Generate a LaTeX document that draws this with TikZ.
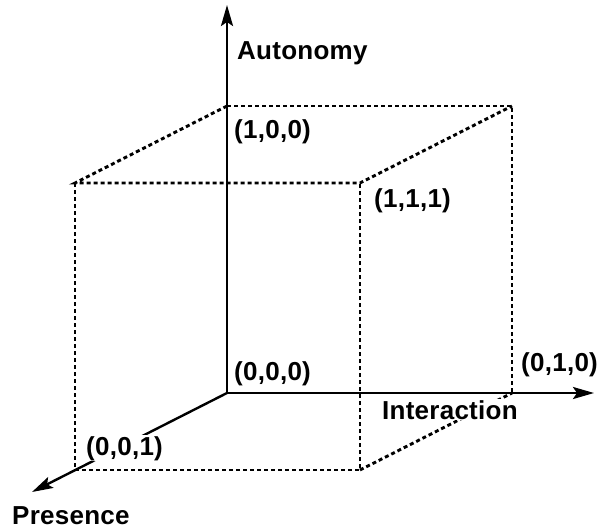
\documentclass[tikz,border=0pt]{standalone}
\usepackage{fontspec}
\setmainfont[LetterSpace=1]{Liberation Sans}
\usetikzlibrary{arrows.meta}

\begin{document}
\begin{tikzpicture}[x=1pt,y=-1pt,
  axis/.style={line width=2.4pt, -{Stealth[length=21pt,width=12pt,inset=4pt]}},
  cubeedge/.style={line width=2.9pt, dash pattern=on 4pt off 3pt},
  lbl/.style={font=\fontsize{26}{30}\selectfont\bfseries, inner sep=1pt, anchor=base west},
  masked/.style={lbl, fill=white}]
  \useasboundingbox (0,0) rectangle (598,528);

  % cube corners: back face (z=0) and front face (z=1)
  \coordinate (O)   at (227,393);
  \coordinate (A)   at (227,106);
  \coordinate (AI)  at (512,106);
  \coordinate (I)   at (512,393);
  \coordinate (P)   at (75,470);
  \coordinate (AP)  at (75,183);
  \coordinate (AIP) at (360,183);
  \coordinate (IP)  at (360,470);

  % axis tips
  \coordinate (Atip) at (227,5);
  \coordinate (Itip) at (594,393);
  \coordinate (Ptip) at (32,492);

  % dotted cube edges
  \draw[cubeedge] (A) -- (AI) -- (I);
  \draw[cubeedge] (A) -- (AP) -- (AIP) -- (AI);
  \draw[cubeedge] (AP) -- (P) -- (IP) -- (AIP);
  \draw[cubeedge] (IP) -- (I);

  % axes
  \draw[axis] (O) -- (Atip);
  \draw[axis] (O) -- (Itip);
  \draw[axis] (O) -- (Ptip);

  % labels
  \node[lbl]    (autonomy)    at (236,59)  {Autonomy};
  \node[lbl]    (v100)        at (233,138) {(1,0,0)};
  \node[lbl]    (v111)        at (373,207) {(1,1,1)};
  \node[lbl]    (v000)        at (233,380) {(0,0,0)};
  \node[lbl]    (v010)        at (520,371) {(0,1,0)};
  \node[masked] (interaction) at (381,419) {Interaction};
  \node[masked] (v001)        at (85,455)  {(0,0,1)};
  \node[lbl]    (presence)    at (11,524)  {Presence};
\end{tikzpicture}
\end{document}
